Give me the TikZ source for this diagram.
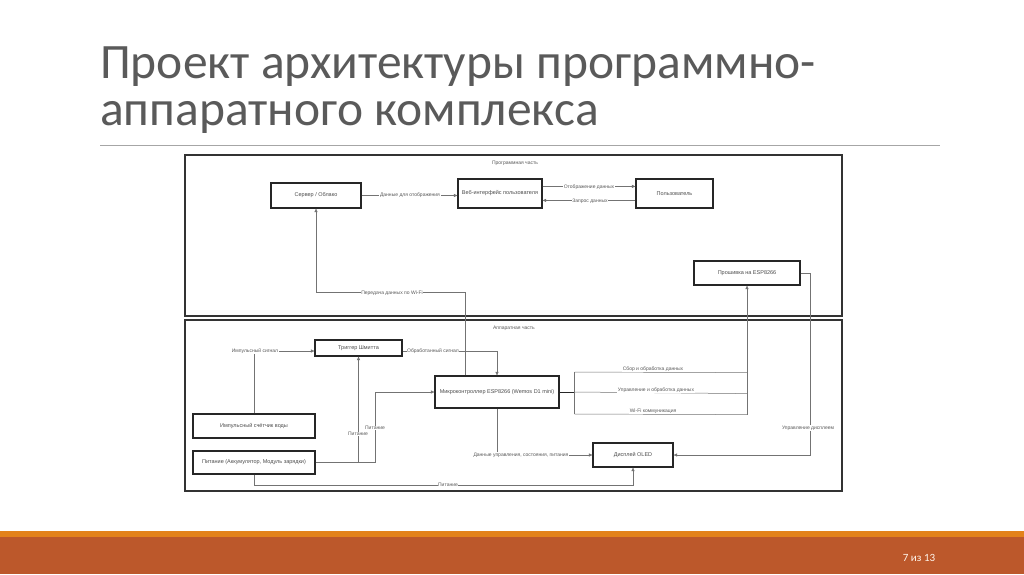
\documentclass[tikz,border=0pt]{standalone}
\usepackage{fontspec}
\setmainfont{Liberation Sans}
\newfontfamily\titlefont{Carlito}
\usetikzlibrary{arrows.meta,calc}
\definecolor{barorange}{HTML}{E3821B}
\definecolor{barred}{HTML}{BC582B}
\definecolor{titlegray}{HTML}{5A5A5A}
\begin{document}
\begin{tikzpicture}[x=1pt,y=-1pt,
  box/.style={draw=black!85, line width=1.2pt, fill=white, inner sep=0pt, font=\fontsize{5.5}{6}\selectfont, text=black!70},
  conn/.style={draw=black!55, line width=0.5pt, -{Triangle[length=3.5pt,width=3pt]}},
  plain/.style={draw=black!55, line width=0.5pt},
  lbl/.style={fill=white, inner sep=0.6pt, font=\fontsize{5}{5}\selectfont, text=black!65},
  frame/.style={draw=black!80, line width=1.1pt},
  titletext/.style={anchor=base west, inner sep=0pt, font=\titlefont\fontsize{49.5}{58}\selectfont, text=titlegray}]
\useasboundingbox (0,0) rectangle (1024,574);
\fill[white] (0,0) rectangle (1024,574);

% title
\node[titletext] (t1) at (100,78) {Проект архитектуры программно-};
\node[titletext] (t2) at (100,125) {аппаратного комплекса};
\draw[black!35, line width=0.6pt] (100,145) -- (940,145);

% bottom bar
\fill[barorange] (0,531) rectangle (1024,537);
\fill[barred] (0,537) rectangle (1024,574);
\node[font=\titlefont\fontsize{11}{12}\selectfont, text=white!92!orange, inner sep=0pt] (pg) at (919,558) {7 из 13};

% frames
\draw[frame] (185,155) rectangle (842,316);
\draw[frame] (185,320) rectangle (842,491);
\node[lbl, fill=none] (swlbl) at (515,163) {Программная часть};
\node[lbl, fill=none] (hwlbl) at (514,328) {Аппаратная часть};

% boxes
\node[box, minimum width=90pt, minimum height=25pt] (srv) at (316,195.5) {Сервер / Облако};
\node[box, minimum width=84pt, minimum height=29pt] (web) at (500,193.5) {Веб-интерфейс пользователя};
\node[box, minimum width=77pt, minimum height=29pt] (usr) at (674.5,193.5) {Пользователь};
\node[box, minimum width=106pt, minimum height=24pt] (fw) at (747,273) {Прошивка на ESP8266};
\node[box, minimum width=87pt, minimum height=16pt] (trg) at (358.5,348) {Триггер Шмитта};
\node[box, minimum width=124pt, minimum height=32pt] (mcu) at (497,392) {Микроконтроллер ESP8266 (Wemos D1 mini)};
\node[box, minimum width=122pt, minimum height=24pt] (cnt) at (254,426) {Импульсный счётчик воды};
\node[box, minimum width=122pt, minimum height=23pt] (pwr) at (254,462.5) {Питание (Аккумулятор, Модуль зарядки)};
\node[box, minimum width=80pt, minimum height=24pt] (oled) at (633,455) {Дисплей OLED};

% software connectors
\draw[conn] (srv.east) -- (srv.east -| web.west);
\node[lbl] (l1) at (410,195) {Данные для отображения};
\draw[conn] ($(web.north east)+(0,8)$) -- ($(usr.north west)+(0,8)$);
\node[lbl] (l2) at (589,187) {Отображение данных};
\draw[conn] ($(usr.north west)+(0,22)$) -- ($(web.north east)+(0,22)$);
\node[lbl] (l3) at (590,201) {Запрос данных};

% MCU -> server
\draw[conn] ($(mcu.north west)+(31,0)$) -- ++(0,-83) -| (srv.south);
\node[lbl] (l4) at (392,293) {Передача данных по Wi-Fi};

% counter -> trigger
\draw[conn] (cnt.north) |- ($(trg.west)+(0,3)$);
\node[lbl] (l5) at (255,351) {Импульсный сигнал};
% trigger -> MCU
\draw[conn] ($(trg.east)+(0,3)$) -| (mcu.north);
\node[lbl] (l6) at (433,351) {Обработанный сигнал};

% power -> trigger, MCU
\draw[conn] (pwr.east) -| (trg.south);
\node[lbl] (l7) at (358,434) {Питание};
\draw[conn] (pwr.east) -- ($(pwr.east)+(60,0)$) |- (mcu.west);
\node[lbl] (l8) at (375,428) {Питание};

% power -> OLED
\draw[conn] (pwr.south) -- ++(0,11) -| (oled.south);
\node[lbl] (l9) at (448,485) {Питание};

% MCU -> OLED
\draw[conn] (mcu.south) |- (oled.west);
\node[lbl] (l10) at (521,455) {Данные управления, состояния, питания};

% MCU -> firmware bundle
\coordinate (bx) at ($(mcu.east)+(15,0)$);
\draw[black!85, line width=1pt] (mcu.east) -- (bx);
\draw[plain] ($(bx)+(0,-20)$) -- ($(bx)+(0,22)$);
\draw[plain] ($(bx)+(0,-20)$) -- ($(fw.south)+(0,87)$);
\draw[plain] (bx) -- ($(fw.south)+(0,108)$);
\draw[plain] ($(bx)+(0,22)$) -- ($(fw.south)+(0,129)$);
\draw[conn] ($(fw.south)+(0,129)$) -- (fw.south);
\node[lbl] (l11) at (653,369.5) {Сбор и обработка данных};
\node[lbl] (l12) at (656,390.5) {Управление и обработка данных};
\node[lbl] (l13) at (653,411.5) {Wi-Fi коммуникация};

% firmware -> OLED
\draw[conn] (fw.east) -- ++(10,0) |- (oled.east);
\node[lbl] (l14) at (808,428) {Управление дисплеем};
\end{tikzpicture}
\end{document}
